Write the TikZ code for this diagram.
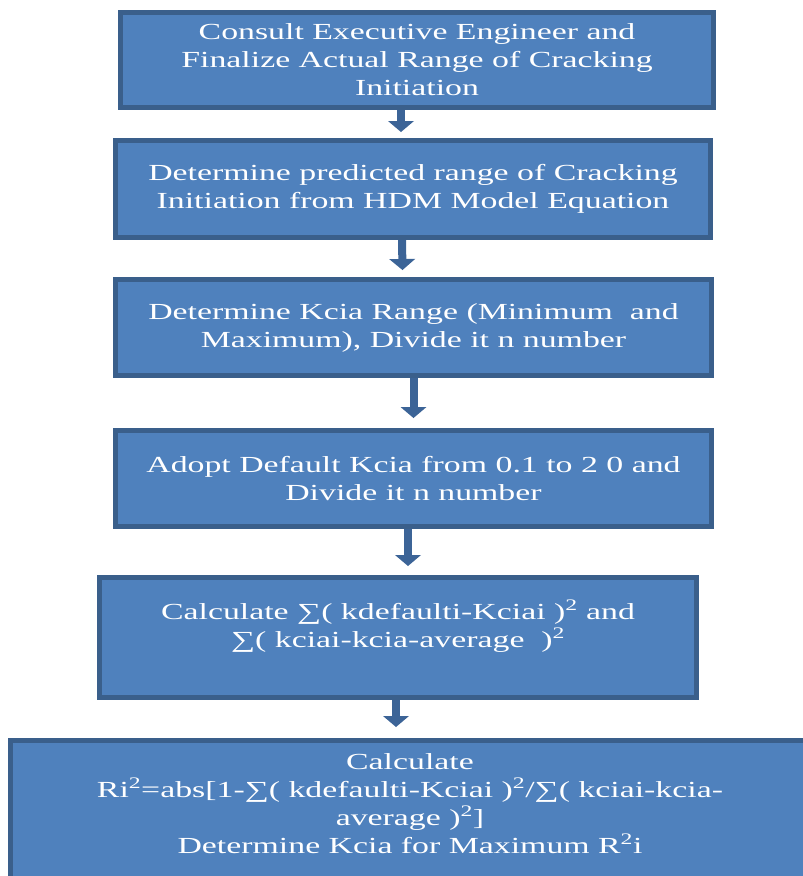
\documentclass[tikz,border=0pt]{standalone}
\usepackage{fontspec}
\setmainfont{Liberation Serif}[FakeStretch=1.47]
\usepackage{xcolor}
\usetikzlibrary{arrows.meta}
\definecolor{boxfill}{HTML}{4F81BD}
\definecolor{boxline}{HTML}{3A5F8B}
\definecolor{flowline}{HTML}{3C6497}
\newcommand{\sq}{\textsuperscript{2}}

\begin{document}
\begin{tikzpicture}[x=1pt,y=-1pt,thick,
  box/.style={rectangle,draw=boxline,fill=boxfill,line width=5pt,text=white,align=center,
    inner sep=0pt,font=\fontsize{23}{28}\selectfont},
  flow/.style={draw=flowline,line width=8pt,
    -{Triangle[width=26pt,length=11pt,line width=0pt]}}]

	\useasboundingbox (0,0) rectangle (803,876);
	\clip (0,0) rectangle (803,876);

	% The boxes
	\node [box,minimum width=593pt,minimum height=95pt] at (417,60) (b1)
	  {Consult Executive Engineer and\\Finalize Actual Range of Cracking\\Initiation};
	\node [box,minimum width=595pt,minimum height=97pt] at (413,189) (b2)
	  {Determine predicted range of Cracking\\Initiation from HDM Model Equation};
	\node [box,minimum width=596pt,minimum height=96pt] at (413.5,327.5) (b3)
	  {Determine Kcia Range (Minimum\ \ and\\Maximum), Divide it n number};
	\node [box,minimum width=596pt,minimum height=96pt] at (413.5,478.5) (b4)
	  {Adopt Default Kcia from 0.1 to 2 0 and\\Divide it n number};
	\node [box,minimum width=597pt,minimum height=120pt] at (398,637.5) (b5)
	  {Calculate ∑( kdefaulti-Kciai )\sq{} and\\∑( kciai-kcia-average\ \ )\sq\\\mbox{}};
	\node [box,minimum width=799pt,minimum height=155pt] at (410,818) (b6)
	  {Calculate\\Ri\sq=abs[1-∑( kdefaulti-Kciai )\sq/∑( kciai-kcia-\\average )\sq]\\Determine Kcia for Maximum R\sq i\\\mbox{}};

	% Arrows
	\draw[flow] ([xshift=-16pt]b1.south) -- ([xshift=-12pt,yshift=6pt]b2.north);
	\draw[flow] ([xshift=-11pt]b2.south) -- ([xshift=-11pt,yshift=7pt]b3.north);
	\draw[flow] (b3.south) -- ([yshift=10pt]b4.north);
	\draw[flow] ([xshift=-5.5pt]b4.south) -- ([xshift=10pt,yshift=9pt]b5.north);
	\draw[flow] ([xshift=-2pt]b5.south) -- ([xshift=-14pt,yshift=11pt]b6.north);

\end{tikzpicture}
\end{document}
